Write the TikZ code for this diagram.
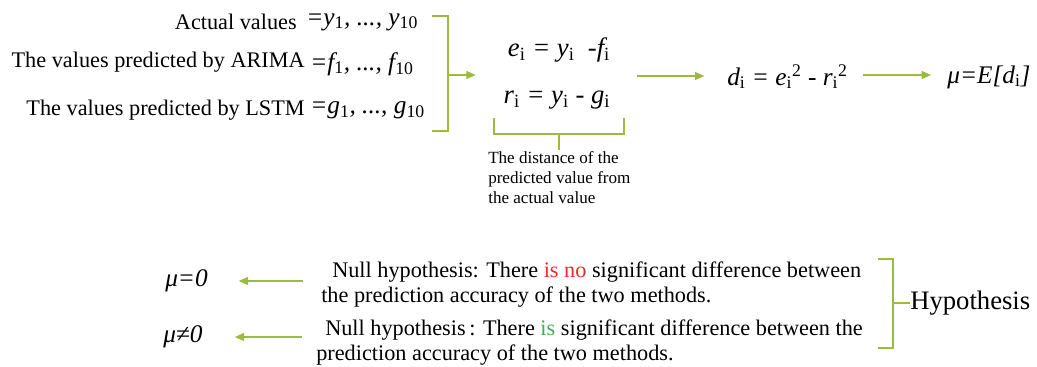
\documentclass[tikz,border=0pt]{standalone}
\usepackage{fontspec}
\setmainfont{Liberation Serif}
\usepackage{xcolor}
\definecolor{hyolive}{RGB}{155,187,60}
\definecolor{hyred}{RGB}{240,40,40}
\definecolor{hygreen}{RGB}{60,175,80}
\usetikzlibrary{arrows.meta}
\newcommand{\lo}[1]{\textsubscript{\upshape #1}}
\newcommand{\hi}[1]{\textsuperscript{\upshape #1}}

\begin{document}
\begin{tikzpicture}[x=0.75pt, y=-0.75pt,
  lbl/.style={font=\fontsize{16.7}{20}\selectfont, inner sep=0pt},
  eq/.style={font=\fontsize{19}{22}\selectfont\itshape, inner sep=0pt},
  note/.style={font=\fontsize{12.8}{15}\selectfont, inner sep=0pt, align=left},
  link/.style={draw=hyolive, line width=0.9pt},
  arr/.style={link, -{Triangle[length=7pt,width=6pt]}}]
  \useasboundingbox (0,0) rectangle (1037,367);

  % Inputs
  \node[lbl, anchor=east] (act) at (297,22) {Actual values};
  \node[eq, anchor=west] (actv) at (306,22) {=y\lo{1}, ..., y\lo{10}};
  \node[lbl, anchor=east] (ari) at (305,62) {The values predicted by ARIMA};
  \node[eq, anchor=west] (ariv) at (310,64) {=f\lo{1}, ..., f\lo{10}};
  \node[lbl, anchor=east] (lst) at (305,110) {The values predicted by LSTM};
  \node[eq, anchor=west] (lstv) at (310,110) {=g\lo{1}, ..., g\lo{10}};
  \draw[link] (432,16) -- (448,16) -- (448,131) -- (432,131);
  \coordinate (br1) at (448,75);

  % Errors
  \node[eq, font=\fontsize{20}{22}\selectfont\itshape] (ei) at (559,50) {e\lo{i} = y\lo{i} \ -f\lo{i}};
  \node[eq, font=\fontsize{20}{22}\selectfont\itshape] (ri) at (557,100) {r\lo{i} = y\lo{i} - g\lo{i}};
  \draw[arr, shorten >=24pt] (br1) -- (br1 -| ei.west);
  \draw[link] (494,118) -- (494,134) -- (624,134) -- (624,118);
  \draw[link] (559,134) -- (559,150) coordinate (br2);
  \node[note, anchor=north west] (dist) at (488,151)
       {The distance of the\\predicted value from\\the actual value};

  % Difference and mean
  \node[eq, anchor=west] (dd) at (727,77) {d\lo{i} = e\lo{i}\hi{2} - r\lo{i}\hi{2}};
  \node[eq, anchor=west] (mu) at (947,77) {μ=E[d\lo{i}]};
  \draw[arr, shorten <=20pt, shorten >=17pt] (ei.east |- 0,76) -- (dd.west |- 0,76);
  \draw[arr, shorten <=11pt, shorten >=12pt] (dd.east |- 0,75) -- (mu.west |- 0,75);

  % Hypotheses
  \node[lbl, anchor=west] (h0a) at (332,272)
       {Null hypothesis: There \textcolor{hyred}{is no} significant difference between};
  \node[lbl, anchor=west] (h0b) at (321,297) {the prediction accuracy of the two methods.};
  \node[lbl, anchor=west] (h1a) at (325,330)
       {Null hypothesis\,: There \textcolor{hygreen}{is} significant difference between the};
  \node[lbl, anchor=west] (h1b) at (316,355) {prediction accuracy of the two methods.};
  \node[eq, anchor=west] (m0) at (165,281) {μ=0};
  \node[eq, anchor=west] (m1) at (163,337) {μ≠0};
  \draw[arr, shorten <=22pt, shorten >=23pt] (h0a.west |- m0) -- (m0.east);
  \draw[arr, shorten <=17pt, shorten >=24pt] (h1a.west |- m1) -- (m1.east);
  \draw[link] (878,259) -- (893,259) -- (893,348) -- (878,348);
  \node[font=\fontsize{20}{24}\selectfont, inner sep=0pt, anchor=west] (hyp) at (910,303) {Hypothesis};
  \draw[link] (893,303) -- (hyp.west);
\end{tikzpicture}
\end{document}
